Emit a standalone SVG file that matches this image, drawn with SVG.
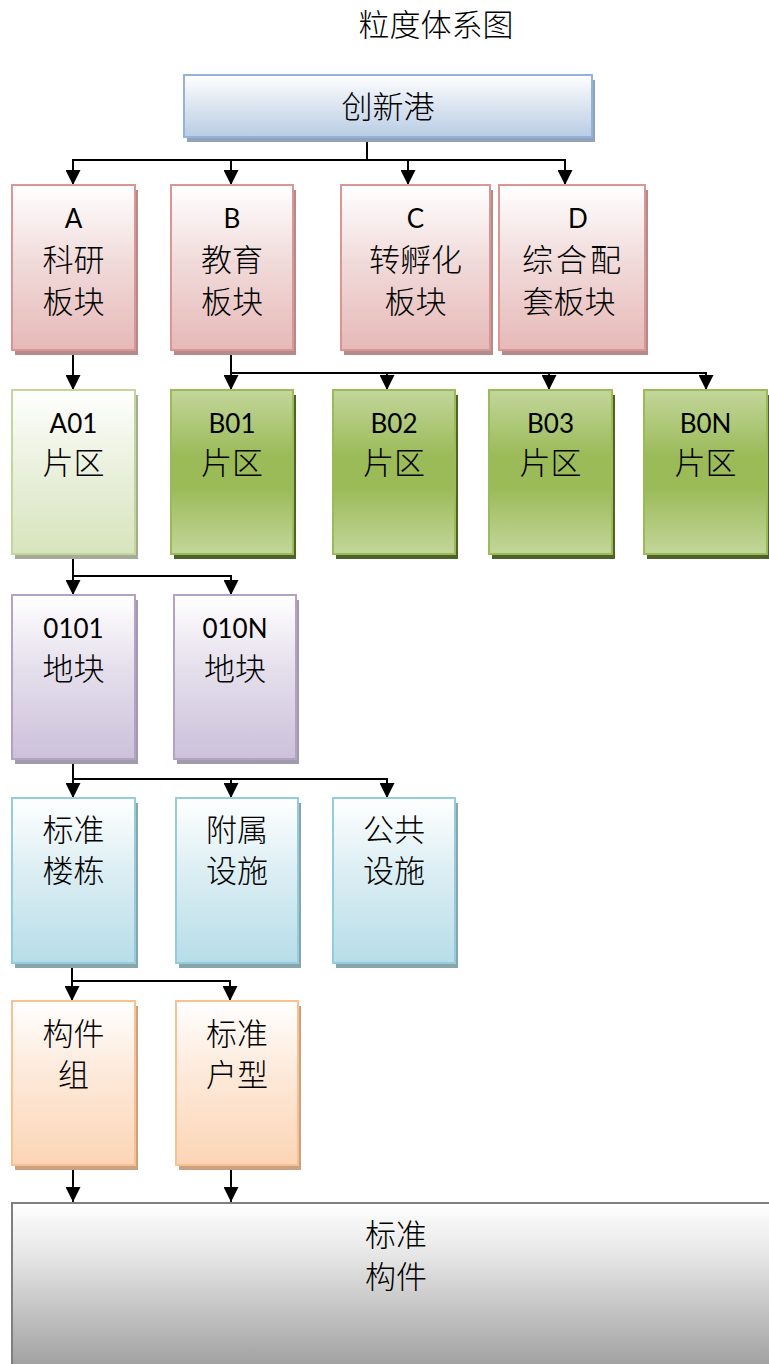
<svg xmlns="http://www.w3.org/2000/svg" width="769" height="1364" viewBox="0 0 769 1364">
<style>
.t{font-family:"Noto Sans CJK SC","Noto Sans",sans-serif;font-size:31px;font-weight:300;fill:#000;text-anchor:middle}
.l{font-family:Lato,"Noto Sans","Noto Sans CJK SC",sans-serif;font-size:26px;fill:#000;text-anchor:middle}
.c{fill:none;stroke:#000;stroke-width:2;marker-end:url(#ah)}
.sh{stroke:none}
</style>
<defs>
<marker id="ah" viewBox="0 0 10 10" refX="10" refY="5" markerWidth="15" markerHeight="15" markerUnits="userSpaceOnUse" orient="auto">
<path d="M0,0 L10,5 L0,10 z" fill="#000"/>
</marker>
<linearGradient id="gBlue" x1="0" y1="0" x2="0" y2="1"><stop offset="0" stop-color="#ffffff"/><stop offset="0.5" stop-color="#dbe4f0"/><stop offset="1" stop-color="#b9cde5"/></linearGradient>
<linearGradient id="gPink" x1="0" y1="0" x2="0" y2="1"><stop offset="0" stop-color="#ffffff"/><stop offset="0.45" stop-color="#f1dcdb"/><stop offset="1" stop-color="#e6b9b8"/></linearGradient>
<linearGradient id="gLG" x1="0" y1="0" x2="0" y2="1"><stop offset="0" stop-color="#ffffff"/><stop offset="0.45" stop-color="#ebf1de"/><stop offset="1" stop-color="#d7e4bd"/></linearGradient>
<linearGradient id="gG" x1="0" y1="0" x2="0" y2="1"><stop offset="0" stop-color="#c3d69b"/><stop offset="0.4" stop-color="#9bbb59"/><stop offset="0.6" stop-color="#9bbb59"/><stop offset="1" stop-color="#c3d69b"/></linearGradient>
<linearGradient id="gPur" x1="0" y1="0" x2="0" y2="1"><stop offset="0" stop-color="#ffffff"/><stop offset="0.45" stop-color="#e5dfec"/><stop offset="1" stop-color="#ccc1da"/></linearGradient>
<linearGradient id="gCy" x1="0" y1="0" x2="0" y2="1"><stop offset="0" stop-color="#ffffff"/><stop offset="0.45" stop-color="#dbeef3"/><stop offset="1" stop-color="#b7dde8"/></linearGradient>
<linearGradient id="gOr" x1="0" y1="0" x2="0" y2="1"><stop offset="0" stop-color="#ffffff"/><stop offset="0.45" stop-color="#fde9d9"/><stop offset="1" stop-color="#fcd5b5"/></linearGradient>
<linearGradient id="gGr" x1="0" y1="0" x2="0" y2="1"><stop offset="0" stop-color="#ffffff"/><stop offset="0.3" stop-color="#e6e6e6"/><stop offset="1" stop-color="#999999"/></linearGradient>
</defs>

<text class="t" x="436" y="36">粒度体系图</text>

<g id="connectors">
<path class="c" d="M367,137 V160 H73 V185"/>
<path class="c" d="M367,137 V160 H231 V185"/>
<path class="c" d="M367,137 V160 H408 V185"/>
<path class="c" d="M367,137 V160 H565 V185"/>
<path class="c" d="M73,350 V390"/>
<path class="c" d="M231,350 V373 V390"/>
<path class="c" d="M231,350 V373 H387 V390"/>
<path class="c" d="M231,350 V373 H549 V390"/>
<path class="c" d="M231,350 V373 H706 V390"/>
<path class="c" d="M73,555 V576 V595"/>
<path class="c" d="M73,555 V576 H231 V595"/>
<path class="c" d="M73,760 V779 V798"/>
<path class="c" d="M73,760 V779 H231 V798"/>
<path class="c" d="M73,760 V779 H387 V798"/>
<path class="c" d="M72,963 V981 V1001"/>
<path class="c" d="M72,963 V981 H230 V1001"/>
<path class="c" d="M73,1168 V1202"/>
<path class="c" d="M231,1168 V1202"/>
</g>

<g id="n-root">
<rect class="sh" x="187" y="80" width="408" height="62" fill="#8fa3ba"/>
<rect x="184" y="75" width="408" height="62" fill="url(#gBlue)" stroke="#95b3d7" stroke-width="2"/>
<text class="t" x="388" y="118">创新港</text>
</g>

<g id="n-A">
<rect class="sh" x="15" y="190" width="123" height="165" fill="#b38b8a"/>
<rect x="12" y="185" width="123" height="165" fill="url(#gPink)" stroke="#d99694" stroke-width="2"/>
<text class="l" x="73.5" y="228">A</text>
<text class="t" x="73.5" y="271">科研</text>
<text class="t" x="73.5" y="313">板块</text>
</g>
<g id="n-B">
<rect class="sh" x="174" y="190" width="122" height="165" fill="#b38b8a"/>
<rect x="171" y="185" width="122" height="165" fill="url(#gPink)" stroke="#d99694" stroke-width="2"/>
<text class="l" x="232" y="228">B</text>
<text class="t" x="232" y="271">教育</text>
<text class="t" x="232" y="313">板块</text>
</g>
<g id="n-C">
<rect class="sh" x="344" y="190" width="149" height="165" fill="#b38b8a"/>
<rect x="341" y="185" width="149" height="165" fill="url(#gPink)" stroke="#d99694" stroke-width="2"/>
<text class="l" x="415.5" y="228">C</text>
<text class="t" x="415.5" y="271">转孵化</text>
<text class="t" x="415.5" y="313">板块</text>
</g>
<g id="n-D">
<rect class="sh" x="502" y="190" width="146" height="165" fill="#b38b8a"/>
<rect x="499" y="185" width="146" height="165" fill="url(#gPink)" stroke="#d99694" stroke-width="2"/>
<text class="l" x="578" y="228">D</text>
<text class="t" x="573" y="271" letter-spacing="3">综合配</text>
<text class="t" x="569" y="313">套板块</text>
</g>

<g id="n-A01">
<rect class="sh" x="15" y="395" width="123" height="164" fill="#a4ab96"/>
<rect x="12" y="390" width="123" height="164" fill="url(#gLG)" stroke="#c3d69b" stroke-width="2"/>
<text class="l" x="73.5" y="433">A01</text>
<text class="t" x="73.5" y="474">片区</text>
</g>
<g id="n-B01">
<rect class="sh" x="174" y="395" width="122" height="164" fill="#4f6228"/>
<rect x="171" y="390" width="122" height="164" fill="url(#gG)" stroke="#9bbb59" stroke-width="2"/>
<text class="l" x="232" y="433">B01</text>
<text class="t" x="232" y="474">片区</text>
</g>
<g id="n-B02">
<rect class="sh" x="336" y="395" width="122" height="164" fill="#4f6228"/>
<rect x="333" y="390" width="122" height="164" fill="url(#gG)" stroke="#9bbb59" stroke-width="2"/>
<text class="l" x="394" y="433">B02</text>
<text class="t" x="394" y="474">片区</text>
</g>
<g id="n-B03">
<rect class="sh" x="492" y="395" width="123" height="164" fill="#4f6228"/>
<rect x="489" y="390" width="123" height="164" fill="url(#gG)" stroke="#9bbb59" stroke-width="2"/>
<text class="l" x="550.5" y="433">B03</text>
<text class="t" x="550.5" y="474">片区</text>
</g>
<g id="n-B0N">
<rect class="sh" x="647" y="395" width="123" height="164" fill="#4f6228"/>
<rect x="644" y="390" width="123" height="164" fill="url(#gG)" stroke="#9bbb59" stroke-width="2"/>
<text class="l" x="705.5" y="433">B0N</text>
<text class="t" x="705.5" y="474">片区</text>
</g>

<g id="n-0101">
<rect class="sh" x="15" y="600" width="123" height="164" fill="#a19aa9"/>
<rect x="12" y="595" width="123" height="164" fill="url(#gPur)" stroke="#b3a2c7" stroke-width="2"/>
<text class="l" x="73.5" y="638">0101</text>
<text class="t" x="73.5" y="680">地块</text>
</g>
<g id="n-010N">
<rect class="sh" x="177" y="600" width="122" height="164" fill="#a19aa9"/>
<rect x="174" y="595" width="122" height="164" fill="url(#gPur)" stroke="#b3a2c7" stroke-width="2"/>
<text class="l" x="235" y="638">010N</text>
<text class="t" x="235" y="680">地块</text>
</g>

<g id="n-bldg">
<rect class="sh" x="15" y="803" width="123" height="165" fill="#8aa4ab"/>
<rect x="12" y="798" width="123" height="165" fill="url(#gCy)" stroke="#92cddc" stroke-width="2"/>
<text class="t" x="73.5" y="841">标准</text>
<text class="t" x="73.5" y="882">楼栋</text>
</g>
<g id="n-aux">
<rect class="sh" x="179" y="803" width="122" height="165" fill="#8aa4ab"/>
<rect x="176" y="798" width="122" height="165" fill="url(#gCy)" stroke="#92cddc" stroke-width="2"/>
<text class="t" x="237" y="841">附属</text>
<text class="t" x="237" y="882">设施</text>
</g>
<g id="n-pub">
<rect class="sh" x="336" y="803" width="122" height="165" fill="#8aa4ab"/>
<rect x="333" y="798" width="122" height="165" fill="url(#gCy)" stroke="#92cddc" stroke-width="2"/>
<text class="t" x="394" y="841">公共</text>
<text class="t" x="394" y="882">设施</text>
</g>

<g id="n-group">
<rect class="sh" x="15" y="1006" width="123" height="164" fill="#c9a283"/>
<rect x="12" y="1001" width="123" height="164" fill="url(#gOr)" stroke="#fac090" stroke-width="2"/>
<text class="t" x="73.5" y="1045">构件</text>
<text class="t" x="73.5" y="1086">组</text>
</g>
<g id="n-unit">
<rect class="sh" x="179" y="1006" width="122" height="164" fill="#c9a283"/>
<rect x="176" y="1001" width="122" height="164" fill="url(#gOr)" stroke="#fac090" stroke-width="2"/>
<text class="t" x="237" y="1045">标准</text>
<text class="t" x="237" y="1086">户型</text>
</g>

<g id="n-std">
<rect x="12" y="1203" width="770" height="175" fill="url(#gGr)" stroke="#7f7f7f" stroke-width="2"/>
<text class="t" x="396" y="1246">标准</text>
<text class="t" x="396" y="1288">构件</text>
</g>
</svg>
